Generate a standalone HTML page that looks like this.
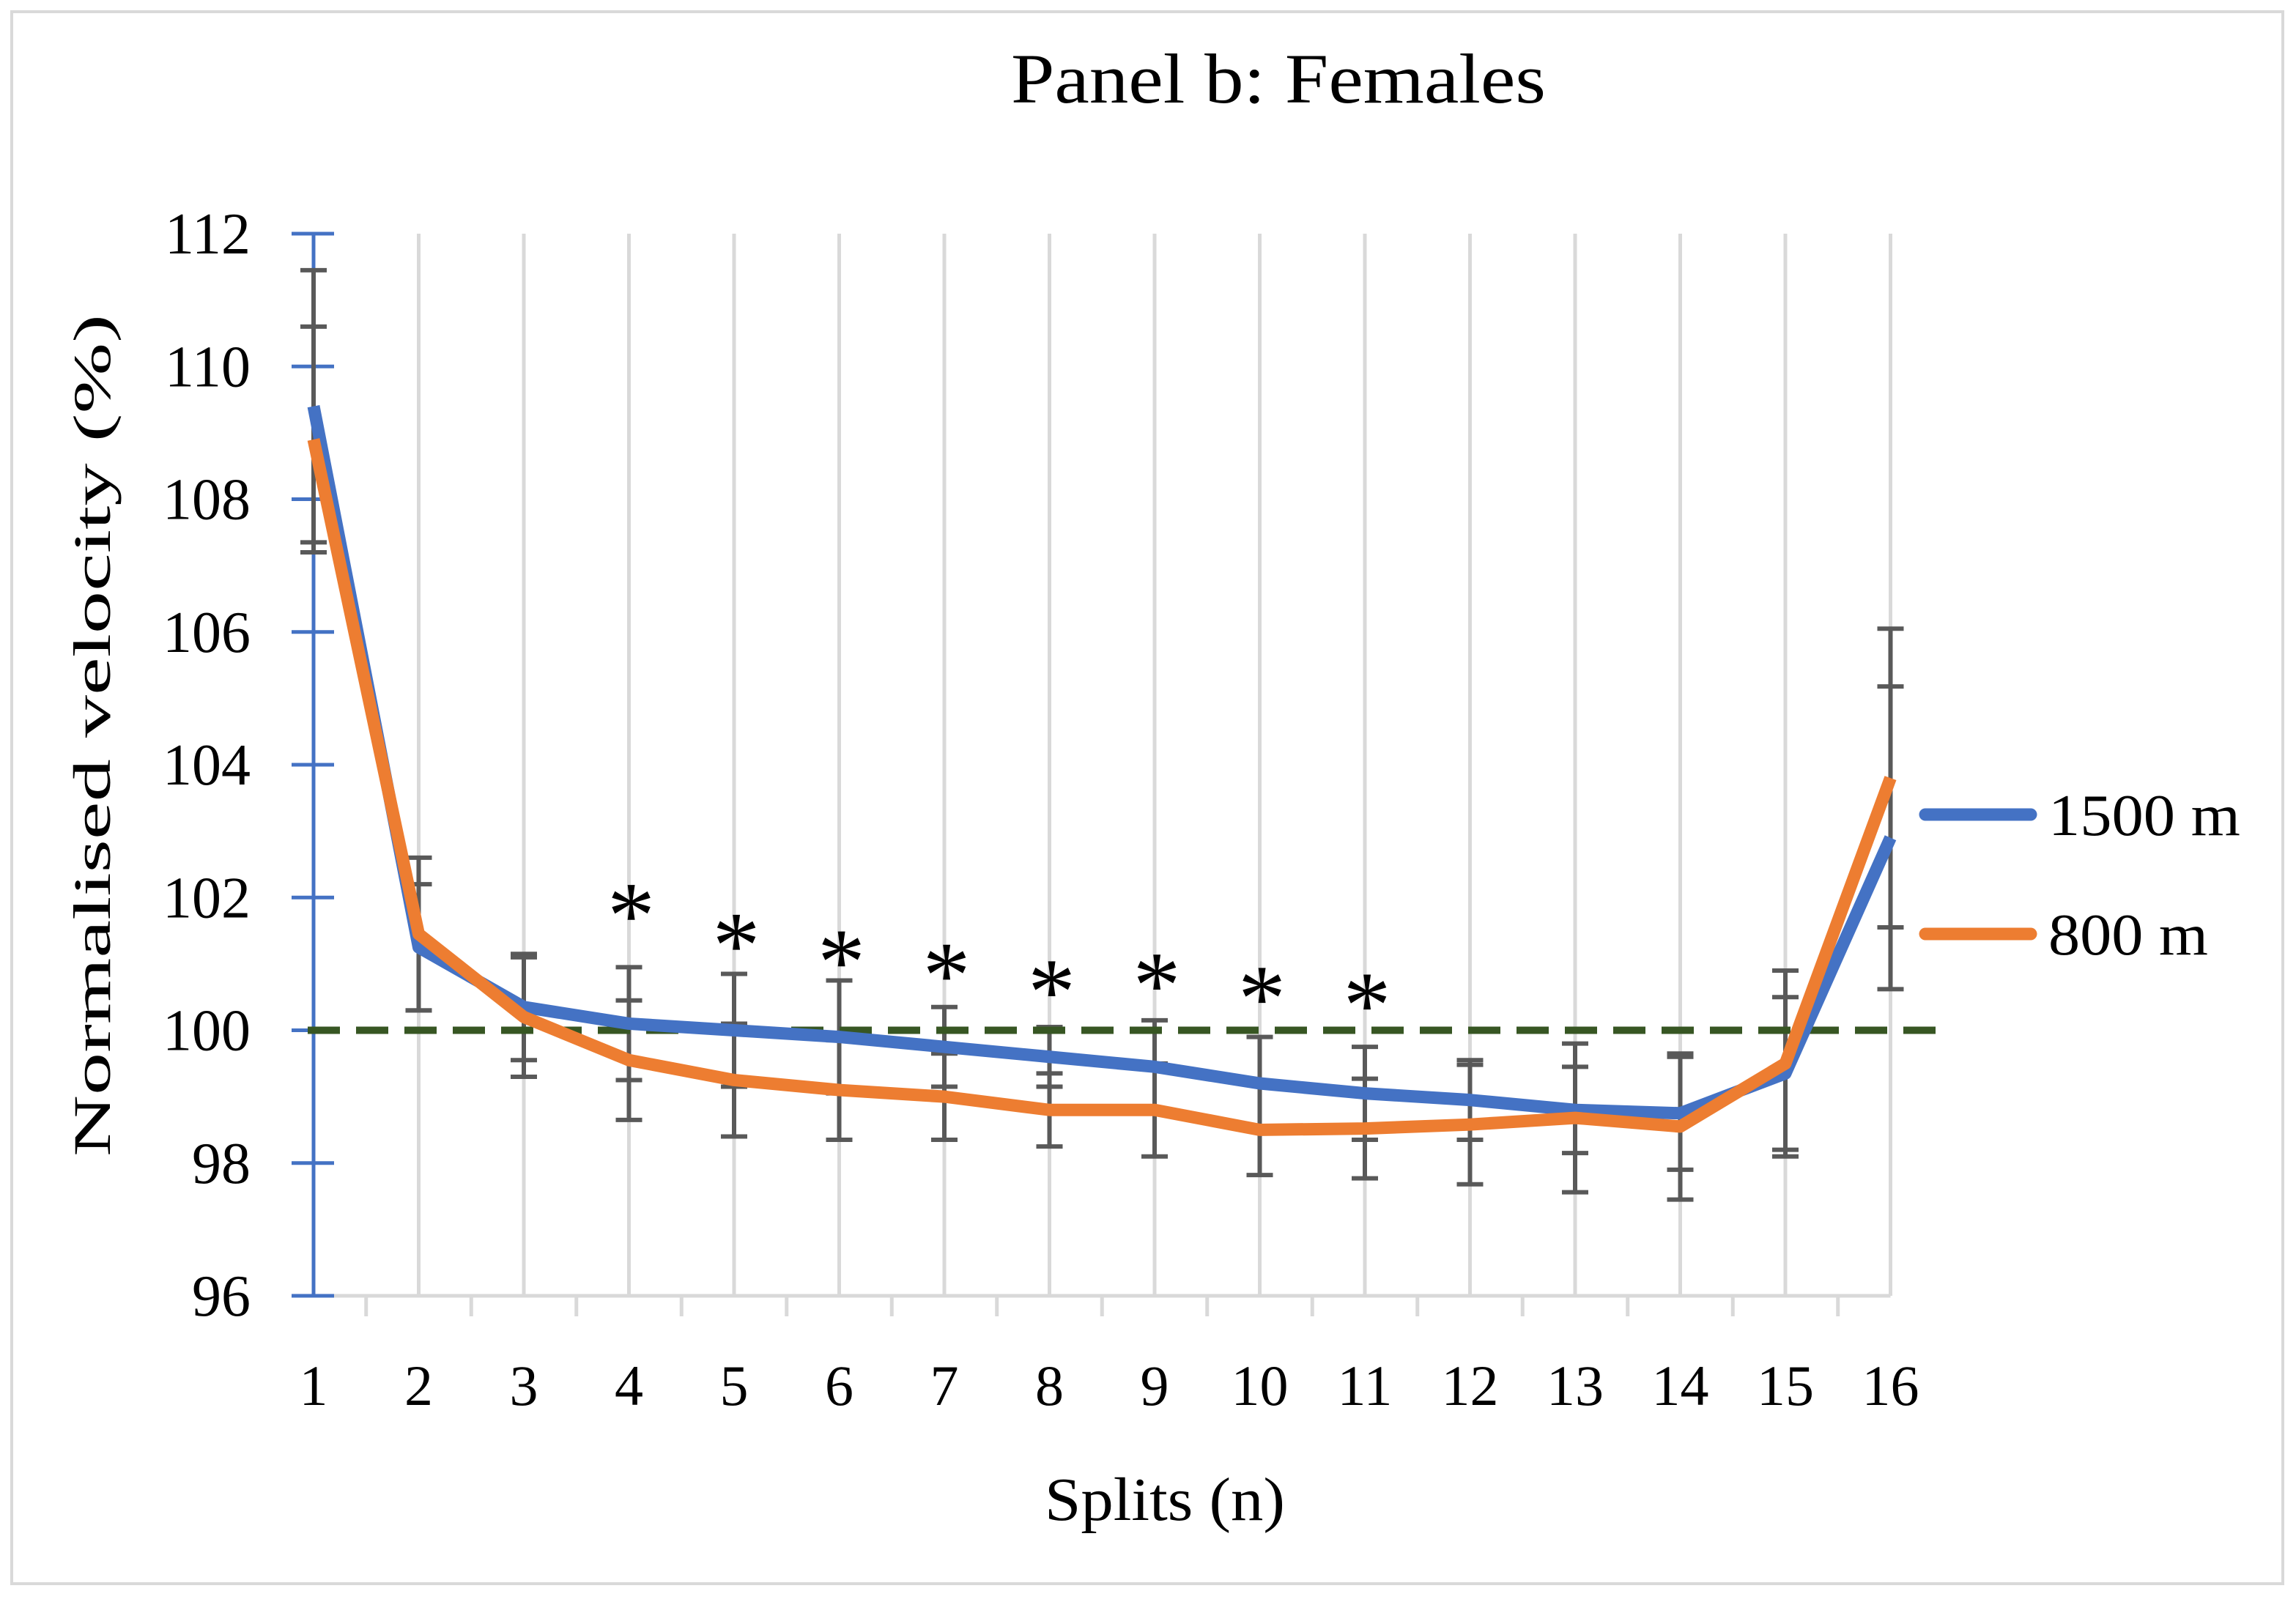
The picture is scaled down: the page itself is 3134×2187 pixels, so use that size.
<!DOCTYPE html>
<html><head><meta charset="utf-8"><style>body{margin:0;background:#fff}svg{display:block}text{font-family:"Liberation Serif",serif;fill:#000}</style></head>
<body>
<svg id="chart" width="3134" height="2187" viewBox="0 0 3134 2187" xmlns="http://www.w3.org/2000/svg">
<rect x="16" y="16" width="3100" height="2146" fill="#fff" stroke="#d9d9d9" stroke-width="4"/>
<text x="1745" y="140" font-size="96" text-anchor="middle" textLength="730" lengthAdjust="spacingAndGlyphs">Panel b: Females</text>
<g id="grid"></g><g id="axes"></g><g id="errs"></g><g id="series"></g><g id="stars"></g>
<text x="1590" y="2075" font-size="84" text-anchor="middle" textLength="328" lengthAdjust="spacingAndGlyphs">Splits (n)</text>
<text transform="translate(150,1004) rotate(-90)" font-size="72" text-anchor="middle" textLength="1150" lengthAdjust="spacingAndGlyphs">Normalised velocity (%)</text>
<g>
<line x1="2628" y1="1112" x2="2772" y2="1112" stroke="#4472c4" stroke-width="17" stroke-linecap="round"/>
<text x="2796" y="1140" font-size="80" textLength="262" lengthAdjust="spacingAndGlyphs">1500 m</text>
<line x1="2628" y1="1275" x2="2772" y2="1275" stroke="#ed7d31" stroke-width="17" stroke-linecap="round"/>
<text x="2796" y="1303" font-size="80" textLength="218" lengthAdjust="spacingAndGlyphs">800 m</text>
</g>
</svg>
<script>
const splits=[1,2,3,4,5,6,7,8,9,10,11,12,13,14,15,16];
const v1500=[109.4,101.25,100.35,100.1,100.0,99.9,99.75,99.6,99.45,99.2,99.05,98.95,98.8,98.75,99.35,102.9];
const v800=[108.9,101.45,100.2,99.55,99.25,99.1,99.0,98.8,98.8,98.5,98.52,98.58,98.68,98.55,99.5,103.8];
const e1500=[2.05,0.95,0.8,0.85,0.85,0.85,0.6,0.45,0.7,0.7,0.7,0.6,0.65,0.85,1.15,2.28];
const e800=[1.7,1.15,0.9,0.9,0.85,0.75,0.65,0.55,0.7,0.68,0.75,0.9,1.12,1.1,1.4,2.25];
const yTicks=[96,98,100,102,104,106,108,110,112];
const starSplits=[4,5,6,7,8,9,10,11];
const starHeights=[102.0,101.55,101.3,101.1,100.85,100.95,100.75,100.65];
const refValue=100;
const NS='http://www.w3.org/2000/svg';
const X=s=>428+(s-1)*143.5;
const Y=v=>319+(112-v)*90.625;
function mk(parent,tag,attrs){const e=document.createElementNS(NS,tag);for(const k in attrs)e.setAttribute(k,attrs[k]);document.getElementById(parent).appendChild(e);return e;}
splits.forEach(s=>{
 if(s>1){const g=mk('grid','line',{x1:X(s),x2:X(s),y1:Y(112),y2:Y(96),stroke:'#d9d9d9','stroke-width':5});
 
 }
 const t=mk('axes','text',{x:X(s),y:1918,'font-size':78,'text-anchor':'middle'});t.textContent=s;
 
 
 if(s<16){const m=mk('grid','line',{x1:X(s+0.5),x2:X(s+0.5),y1:Y(96),y2:Y(96)+28,stroke:'#d9d9d9','stroke-width':5});
 
 }
});
const xa=mk('grid','line',{x1:X(1),x2:X(16),y1:Y(96),y2:Y(96),stroke:'#d9d9d9','stroke-width':5});


const ya=mk('axes','line',{x1:X(1),x2:X(1),y1:Y(112),y2:Y(96),stroke:'#4472c4','stroke-width':5});


yTicks.forEach(v=>{
 const l=mk('axes','line',{x1:X(1)-30,x2:X(1)+28,y1:Y(v),y2:Y(v),stroke:'#4472c4','stroke-width':5});
 
 
 const t=mk('axes','text',{x:342,y:Y(v)+27,'font-size':80,'text-anchor':'end'});t.textContent=v;
 
 
});
[[v1500,e1500],[v800,e800]].forEach(([vals,errs])=>{
 splits.forEach((s,i)=>{
  const x=X(s),hi=Y(vals[i]+errs[i]),lo=Y(vals[i]-errs[i]);
  const p=mk('errs','path',{d:`M${x},${hi}V${lo}M${x-18},${hi}H${x+18}M${x-18},${lo}H${x+18}`,stroke:'#595959','stroke-width':6,fill:'none'});
  
  
 });
});
const ref=mk('series','line',{x1:420,x2:2662,y1:Y(refValue),y2:Y(refValue),stroke:'#375623','stroke-width':10,'stroke-dasharray':'44 22'});


[[v1500,'#4472c4','line-1500m'],[v800,'#ed7d31','line-800m']].forEach(([vals,c,n])=>{
 const p=mk('series','polyline',{points:splits.map((s,i)=>X(s)+','+Y(vals[i])).join(' '),fill:'none',stroke:c,'stroke-width':17,'stroke-linejoin':'round'});
 
 
});
starSplits.forEach((s,i)=>{
 const t=mk('stars','text',{x:X(s)+3,y:Y(starHeights[i])+68,'font-size':130,'text-anchor':'middle'});t.textContent='*';
 
 
});
</script>
</body></html>
